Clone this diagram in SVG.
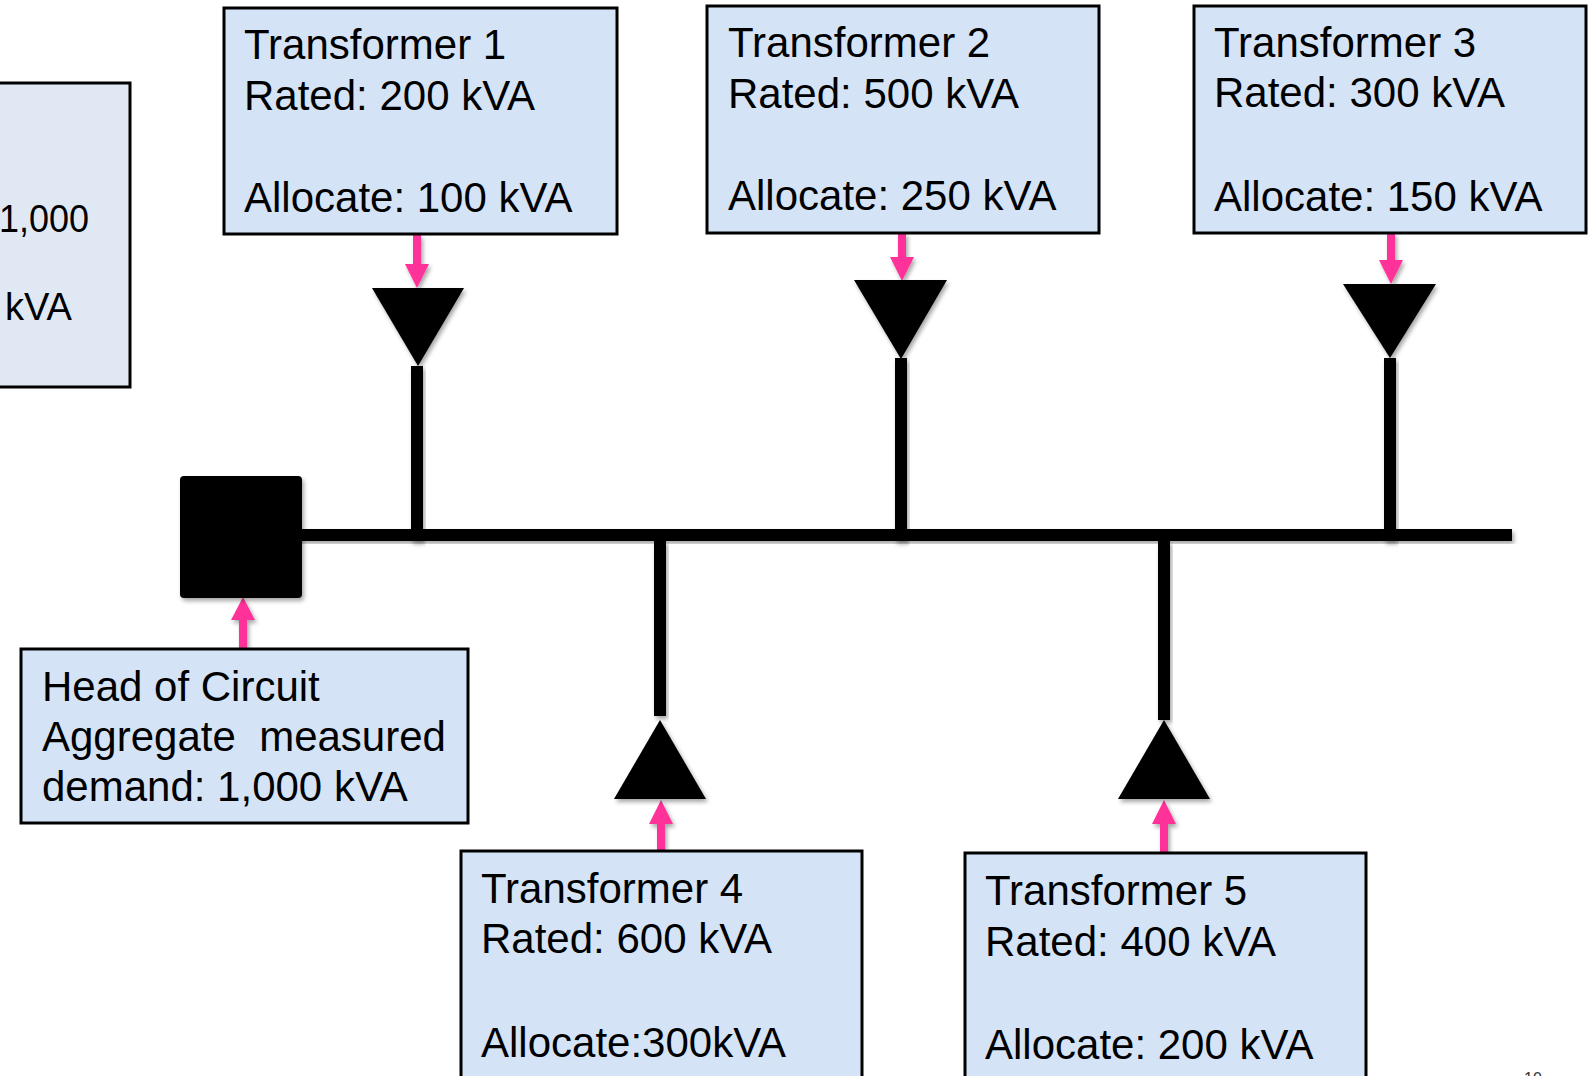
<svg xmlns="http://www.w3.org/2000/svg" width="1589" height="1076" viewBox="0 0 1589 1076">
<defs>
<filter id="sh" x="-20%" y="-20%" width="140%" height="140%">
<feDropShadow dx="2" dy="3" stdDeviation="2" flood-color="#000" flood-opacity="0.35"/>
</filter>
<style>
.box{fill:#d4e4f6;stroke:#000;stroke-width:3}
.box2{fill:#e0e9f3;stroke:#000;stroke-width:3}
.t{font-family:"Liberation Sans",Arial,sans-serif;font-size:42px;fill:#000}
.ts{font-family:"Liberation Sans",Arial,sans-serif;font-size:38px;fill:#000}
.blk{fill:#000;filter:url(#sh)}
.pk{fill:#ff3399;filter:url(#sh)}
</style>
</defs>
<rect width="1589" height="1076" fill="#fff"/>

<g id="partial-box">
<rect class="box2" x="-5" y="83" width="135" height="304"/>
<text class="ts" x="-1" y="232" textLength="90" lengthAdjust="spacingAndGlyphs">1,000</text>
<text class="ts" x="5" y="320" textLength="67" lengthAdjust="spacingAndGlyphs">kVA</text>
</g>

<g id="connectors">
<rect class="blk" x="296" y="529" width="1216" height="12"/>
<rect class="blk" x="411" y="366" width="12" height="175"/>
<rect class="blk" x="895" y="358" width="12" height="183"/>
<rect class="blk" x="1384" y="358" width="12" height="183"/>
<rect class="blk" x="654" y="541" width="12" height="175"/>
<rect class="blk" x="1158" y="541" width="12" height="179"/>
<polygon class="pk" points="413,235 421,235 421,264 429,264 417,288 405,264 413,264"/>
<polygon class="pk" points="898,233 906,233 906,257 914,257 902,281 890,257 898,257"/>
<polygon class="pk" points="1387,233 1395,233 1395,260 1403,260 1391,284 1379,260 1387,260"/>
<polygon class="pk" points="657,851 665,851 665,824 673,824 661,800 649,824 657,824"/>
<polygon class="pk" points="1160,853 1168,853 1168,824 1176,824 1164,800 1152,824 1160,824"/>
<polygon class="pk" points="239,649 247,649 247,620 255,620 243,597 231,620 239,620"/>
</g>

<g id="head-of-circuit-node">
<rect class="blk" x="180" y="476" width="122" height="122" rx="4"/>
</g>

<g id="tri1"><polygon class="blk" points="372,288 464,288 418,366"/></g>
<g id="tri2"><polygon class="blk" points="854,280 947,280 901,359"/></g>
<g id="tri3"><polygon class="blk" points="1343,284 1436,284 1390,358"/></g>
<g id="tri4"><polygon class="blk" points="614,799 706,799 660,720"/></g>
<g id="tri5"><polygon class="blk" points="1118,799 1210,799 1164,720"/></g>

<g id="transformer1">
<rect class="box" x="224" y="8" width="393" height="226"/>
<text class="t" x="244" y="59">Transformer 1</text>
<text class="t" x="244" y="110">Rated: 200 kVA</text>
<text class="t" x="244" y="212">Allocate: 100 kVA</text>
</g>

<g id="transformer2">
<rect class="box" x="707" y="6" width="392" height="227"/>
<text class="t" x="728" y="57">Transformer 2</text>
<text class="t" x="728" y="108">Rated: 500 kVA</text>
<text class="t" x="728" y="210">Allocate: 250 kVA</text>
</g>

<g id="transformer3">
<rect class="box" x="1194" y="6" width="392" height="227"/>
<text class="t" x="1214" y="57">Transformer 3</text>
<text class="t" x="1214" y="107">Rated: 300 kVA</text>
<text class="t" x="1214" y="211">Allocate: 150 kVA</text>
</g>

<g id="head-of-circuit-label">
<rect class="box" x="21" y="649" width="447" height="174"/>
<text class="t" x="42" y="701">Head of Circuit</text>
<text class="t" x="42" y="751" xml:space="preserve">Aggregate  measured</text>
<text class="t" x="42" y="801">demand: 1,000 kVA</text>
</g>

<g id="transformer4">
<rect class="box" x="461" y="851" width="401" height="240"/>
<text class="t" x="481" y="903">Transformer 4</text>
<text class="t" x="481" y="953">Rated: 600 kVA</text>
<text class="t" x="481" y="1057">Allocate:300kVA</text>
</g>

<g id="transformer5">
<rect class="box" x="965" y="853" width="401" height="240"/>
<text class="t" x="985" y="905">Transformer 5</text>
<text class="t" x="985" y="956">Rated: 400 kVA</text>
<text class="t" x="985" y="1059">Allocate: 200 kVA</text>
</g>

<text x="1524" y="1084" font-family="Liberation Sans, Arial, sans-serif" font-size="16" fill="#333">10</text>
</svg>
